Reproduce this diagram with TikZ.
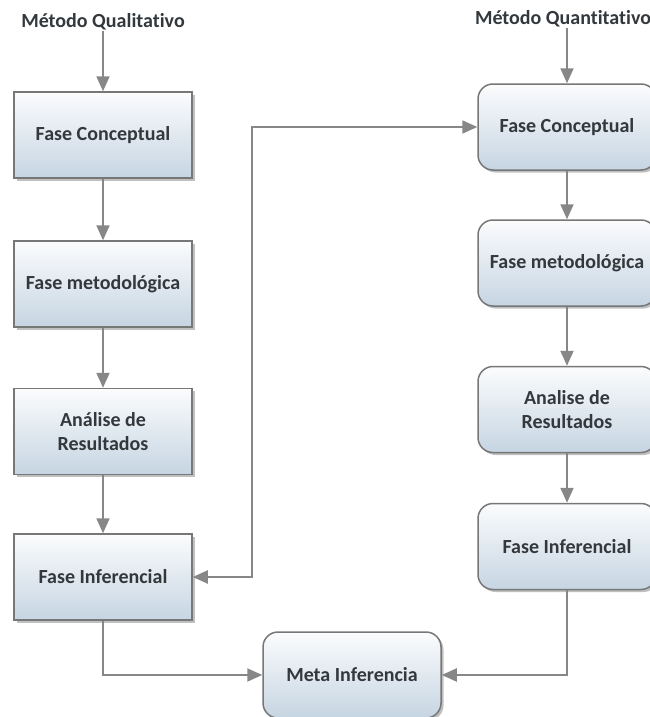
\documentclass[tikz,border=0pt]{standalone}
\usepackage{fontspec}
\setmainfont{Carlito}[Ligatures=NoCommon]
\usetikzlibrary{arrows.meta,shadows,positioning}

\definecolor{edgegray}{HTML}{777777}
\definecolor{linkgray}{HTML}{878787}
\definecolor{boxtop}{HTML}{FBFCFD}
\definecolor{boxbottom}{HTML}{C6D5E2}
\definecolor{labelgray}{HTML}{33383D}

\tikzset{
  x=1pt, y=-1pt,
  phase/.style={
    draw=edgegray, line width=1.5pt,
    top color=boxtop, bottom color=boxbottom,
    minimum width=178pt, minimum height=86pt,
    align=center, text=labelgray,
    font=\fontsize{20}{24}\selectfont\bfseries,
    drop shadow={shadow xshift=2.5pt, shadow yshift=-2.5pt, opacity=0.45, fill=black!55}
  },
  squarephase/.style={phase},
  roundphase/.style={phase, rounded corners=15pt},
  heading/.style={text=labelgray, font=\fontsize{20}{24}\selectfont\bfseries, inner sep=1pt},
  link/.style={draw=linkgray, line width=2pt,
    -{Triangle[length=15pt,width=13pt]}},
  twolink/.style={draw=linkgray, line width=2pt,
    {Triangle[length=15pt,width=13pt]}-{Triangle[length=15pt,width=13pt]}}
}

\begin{document}
\begin{tikzpicture}
  \useasboundingbox (0,0) rectangle (650,717);
  \clip (0,0) rectangle (650,717);

  % qualitative column
  \node[heading] (qualit) at (103,22) {Método Qualitativo};
  \node[squarephase] (l1) at (103,135) {Fase Conceptual};
  \node[squarephase] (l2) at (103,284) {Fase metodológica};
  \node[squarephase] (l3) at (103,431.5) {Análise de\\Resultados};
  \node[squarephase] (l4) at (103,577) {Fase Inferencial};

  % quantitative column
  \node[heading] (quant) at (563,19) {Método Quantitativo};
  \node[roundphase] (r1) at (567,127) {Fase Conceptual};
  \node[roundphase] (r2) at (567,263) {Fase metodológica};
  \node[roundphase] (r3) at (567,409.5) {Analise de\\Resultados};
  \node[roundphase] (r4) at (567,546.5) {Fase Inferencial};

  % merged inference
  \node[roundphase] (meta) at (352,675) {Meta Inferencia};

  % links
  \coordinate (bend) at (252,0);
  \draw[link] (qualit) -- (l1);
  \draw[link] (l1) -- (l2);
  \draw[link] (l2) -- (l3);
  \draw[link] (l3) -- (l4);
  \draw[link] (quant.south -| r1.north) -- (r1.north);
  \draw[link] (r1) -- (r2);
  \draw[link] (r2) -- (r3);
  \draw[link] (r3) -- (r4);
  \draw[twolink] (l4.east) -- (l4.east -| bend) |- (r1.west);
  \draw[link] (l4.south) |- (meta.west);
  \draw[link] (r4.south) |- (meta.east);
\end{tikzpicture}
\end{document}
